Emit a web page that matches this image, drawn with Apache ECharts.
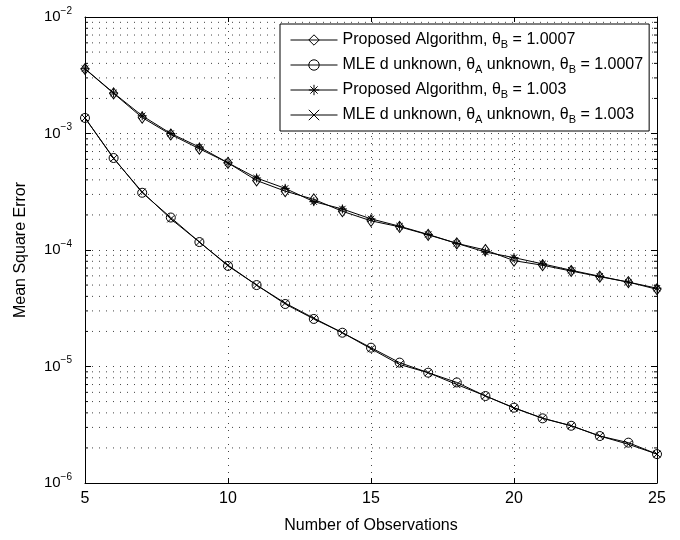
<!DOCTYPE html>
<html>
<head>
<meta charset="utf-8">
<script src="https://cdn.jsdelivr.net/npm/echarts@6/dist/echarts.min.js"></script>
<style>
html,body{margin:0;padding:0;background:#fff;}
#chart{width:680px;height:540px;}
</style>
</head>
<body>
<div id="chart"></div>
<script>
var observations = [5,6,7,8,9,10,11,12,13,14,15,16,17,18,19,20,21,22,23,24,25];
var propB10007 = [3.58e-3,2.21e-3,1.37e-3,9.8e-4,7.4e-4,5.6e-4,3.95e-4,3.2e-4,2.72e-4,2.15e-4,1.78e-4,1.58e-4,1.35e-4,1.14e-4,1.0e-4,8.1e-5,7.4e-5,6.6e-5,5.9e-5,5.3e-5,4.6e-5];
var mleB10007 = [1.36e-3,6.16e-4,3.1e-4,1.9e-4,1.17e-4,7.3e-5,5.0e-5,3.44e-5,2.56e-5,1.95e-5,1.45e-5,1.08e-5,8.85e-6,7.3e-6,5.58e-6,4.43e-6,3.59e-6,3.1e-6,2.53e-6,2.22e-6,1.77e-6];
var propB1003 = [3.6e-3,2.23e-3,1.42e-3,1.0e-3,7.65e-4,5.6e-4,4.15e-4,3.38e-4,2.6e-4,2.25e-4,1.85e-4,1.6e-4,1.36e-4,1.14e-4,9.6e-5,8.6e-5,7.6e-5,6.7e-5,5.95e-5,5.3e-5,4.7e-5];
var mleB1003 = [1.36e-3,6.1e-4,3.15e-4,1.85e-4,1.17e-4,7.4e-5,5.0e-5,3.5e-5,2.6e-5,1.95e-5,1.42e-5,1.04e-5,8.85e-6,7.0e-6,5.6e-6,4.4e-6,3.6e-6,3.1e-6,2.53e-6,2.15e-6,1.77e-6];
var xTicks = [5,10,15,20,25];
var yDecades = [1e-6,1e-5,1e-4,1e-3,1e-2];
var seriesNames = [
  'Proposed Algorithm, θB = 1.0007',
  'MLE d unknown, θA unknown, θB = 1.0007',
  'Proposed Algorithm, θB = 1.003',
  'MLE d unknown, θA unknown, θB = 1.003'
];
var legendRich = [
  '{t|Proposed Algorithm, θ}{s|B}{t| = 1.0007}',
  '{t|MLE d unknown, θ}{s|A}{t| unknown, θ}{s|B}{t| = 1.0007}',
  '{t|Proposed Algorithm, θ}{s|B}{t| = 1.003}',
  '{t|MLE d unknown, θ}{s|A}{t| unknown, θ}{s|B}{t| = 1.003}'
];

// minor tick values 2..9 per decade
var minorVals = [];
for (var d = 0; d < yDecades.length - 1; d++) {
  for (var m = 2; m <= 9; m++) minorVals.push([5, m * yDecades[d]]);
}

function pairs(vals) { return observations.map(function (x, i) { return [x, vals[i]]; }); }

var FONT = '"Liberation Sans", Arial, Helvetica, sans-serif';
var starPath = 'path://M5,0L5,10M0,5L10,5M1.5,1.5L8.5,8.5M8.5,1.5L1.5,8.5';
var crossPath = 'path://M0,0L10,10M10,0L0,10';

function mkSeries(name, vals, symbol, size) {
  return {
    name: name, type: 'line', data: pairs(vals),
    symbol: symbol, symbolSize: size, showSymbol: true,
    lineStyle: { color: '#000', width: 1 },
    itemStyle: { color: 'none', borderColor: '#000', borderWidth: 1 },
    emphasis: { disabled: true }, silent: true, z: 3, animation: false
  };
}

var chart = echarts.init(document.getElementById('chart'));
var gridDot = { color: '#444', type: [1, 6], width: 1 };
chart.setOption({
  backgroundColor: '#fff',
  animation: false,
  textStyle: { fontFamily: FONT },
  grid: { left: 85, right: 23, top: 17, bottom: 57 },
  legend: {
    orient: 'vertical', left: 280, top: 24,
    data: seriesNames,
    itemWidth: 47, itemHeight: 13, itemGap: 7,
    padding: [8, 6, 6, 10],
    borderColor: '#000', borderWidth: 1, backgroundColor: '#fff',
    lineStyle: { color: '#000', width: 1 },
    itemStyle: { color: 'none', borderColor: '#000', borderWidth: 1 },
    formatter: function (n) { return legendRich[seriesNames.indexOf(n)]; },
    textStyle: {
      color: '#000', fontFamily: FONT,
      rich: {
        t: { fontSize: 16, lineHeight: 20, fontFamily: FONT, color: '#000' },
        s: { fontSize: 11, lineHeight: 11, verticalAlign: 'bottom', fontFamily: FONT, color: '#000' }
      }
    },
    selectedMode: false
  },
  xAxis: [{
    type: 'value', min: 5, max: 25, interval: 5,
    name: 'Number of Observations', nameLocation: 'middle', nameGap: 35,
    nameTextStyle: { fontSize: 16, color: '#000', fontFamily: FONT },
    axisLine: { lineStyle: { color: '#000', width: 1 } },
    axisTick: { inside: true, length: 5, lineStyle: { color: '#000' } },
    axisLabel: { fontSize: 16, color: '#000', margin: 8, fontFamily: FONT },
    splitLine: { show: true, lineStyle: gridDot }
  }, {
    type: 'value', min: 5, max: 25, interval: 5, position: 'top',
    axisLine: { show: true, lineStyle: { color: '#000', width: 1 } },
    axisTick: { show: true, inside: true, length: 5, lineStyle: { color: '#000' } },
    axisLabel: { show: false }, splitLine: { show: false }
  }],
  yAxis: [{
    type: 'log', logBase: 10, min: 1e-6, max: 1e-2,
    name: 'Mean Square Error', nameLocation: 'middle', nameGap: 56,
    nameTextStyle: { fontSize: 16, color: '#000', fontFamily: FONT },
    axisLine: { show: true, lineStyle: { color: '#000', width: 1 } },
    axisTick: { show: true, inside: true, length: 6, lineStyle: { color: '#000' } },
    axisLabel: {
      margin: 13, color: '#000',
      formatter: function (v) {
        var e = Math.round(Math.log10(v));
        return '{b|10}{s|−' + (-e) + '}';
      },
      rich: {
        b: { fontSize: 15, lineHeight: 22, fontFamily: FONT, color: '#000' },
        s: { fontSize: 10, lineHeight: 10, verticalAlign: 'top', fontFamily: FONT, color: '#000' }
      }
    },
    splitLine: { show: true, lineStyle: gridDot },
    minorTick: { show: false }, minorSplitLine: { show: false }
  }, {
    type: 'log', logBase: 10, min: 1e-6, max: 1e-2, position: 'right',
    axisLine: { show: true, lineStyle: { color: '#000', width: 1 } },
    axisTick: { show: true, inside: true, length: 6, lineStyle: { color: '#000' } },
    axisLabel: { show: false }, splitLine: { show: false }
  }],
  series: [
    {
      type: 'custom', data: minorVals, silent: true, z: 1, clip: false,
      encode: { x: 0, y: 1 },
      renderItem: function (params, api) {
        var v = api.value(1);
        var p1 = api.coord([5, v]);
        var p2 = api.coord([25, v]);
        return {
          type: 'group',
          children: [
            { type: 'line', shape: { x1: p1[0], y1: p1[1], x2: p2[0], y2: p2[1] },
              style: { stroke: '#444', lineWidth: 1, lineDash: [1, 6] } },
            { type: 'line', shape: { x1: p1[0], y1: p1[1], x2: p1[0] + 3, y2: p1[1] },
              style: { stroke: '#000', lineWidth: 1 } },
            { type: 'line', shape: { x1: p2[0] - 3, y1: p2[1], x2: p2[0], y2: p2[1] },
              style: { stroke: '#000', lineWidth: 1 } }
          ]
        };
      }
    },
    mkSeries(seriesNames[0], propB10007, 'diamond', [8, 11]),
    mkSeries(seriesNames[1], mleB10007, 'circle', 9),
    mkSeries(seriesNames[2], propB1003, starPath, 9),
    mkSeries(seriesNames[3], mleB1003, crossPath, 7)
  ]
});
</script>
</body>
</html>
